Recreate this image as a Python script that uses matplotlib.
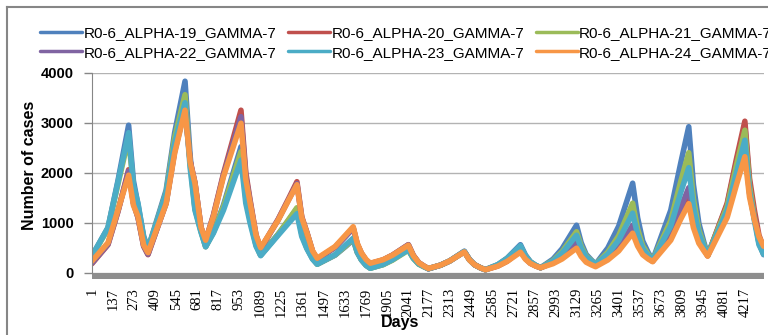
import matplotlib
matplotlib.use("Agg")
import matplotlib.pyplot as plt
from matplotlib.lines import Line2D
from matplotlib.patches import Rectangle

# key days (rise points, peak, fall points, trough for each yearly wave),
# read off the picture
days = [1, 105, 170,
        238, 269, 299, 335, 363,
        480, 535,
        602, 635, 666, 705, 735,
        785, 850,
        963, 994, 1022, 1060, 1090,
        1203, 1270,
        1324, 1355, 1388, 1425, 1455,
        1570, 1640,
        1687, 1713, 1740, 1770, 1797,
        1880, 1940,
        2043, 2075, 2110, 2145, 2172,
        2250, 2310,
        2404, 2437, 2470, 2510, 2540,
        2620, 2680,
        2766, 2798, 2830, 2866, 2896,
        2976, 3035,
        3128, 3158, 3190, 3225, 3251,
        3330, 3400,
        3490, 3522, 3555, 3590, 3619,
        3736, 3800,
        3852, 3882, 3917, 3950, 3974,
        4100, 4160,
        4214, 4244, 4275, 4305, 4335]

alpha19 = [330, 900, 1850,
           2950, 1840, 1350, 730, 480,
           1650, 2800,
           3830, 2340, 1300, 850, 520,
           820, 1350,
           2520, 1540, 1080, 565, 350,
           770, 1050,
           1280, 780, 500, 280, 170,
           350, 530,
           660, 405, 255, 145, 90,
           165, 260,
           470, 295, 175, 120, 80,
           150, 235,
           430, 265, 160, 95, 60,
           160, 290,
           560, 355, 220, 145, 100,
           270, 480,
           950, 600, 365, 250, 170,
           495, 930,
           1790, 1100, 635, 405, 250,
           1250, 2190,
           2920, 1765, 990, 605, 350,
           1360, 2220,
           2950, 1785, 1140, 600, 360]
alpha20 = [180, 560, 1230,
           2060, 1400, 1100, 530, 360,
           1400, 2450,
           3300, 2240, 1800, 905, 640,
           1150, 1980,
           3250, 2005, 1450, 755, 480,
           1070, 1480,
           1820, 1120, 810, 425, 270,
           510, 740,
           900, 575, 390, 250, 180,
           255, 350,
           560, 345, 200, 130, 80,
           150, 235,
           420, 260, 160, 95, 60,
           135, 230,
           440, 285, 190, 135, 100,
           200, 320,
           600, 395, 250, 185, 140,
           290, 480,
           900, 600, 400, 295, 230,
           730, 1215,
           1580, 1020, 640, 465, 340,
           1390, 2280,
           3030, 1890, 1260, 750, 500]
alpha21 = [320, 880, 1780,
           2700, 1700, 1300, 695, 470,
           1600, 2700,
           3560, 2190, 1280, 825, 520,
           810, 1320,
           2420, 1490, 1050, 555, 350,
           770, 1060,
           1300, 790, 500, 285, 170,
           355, 540,
           680, 415, 260, 150, 90,
           160, 250,
           450, 285, 170, 115, 80,
           150, 235,
           420, 260, 160, 95, 60,
           155, 280,
           520, 330, 215, 140, 100,
           240, 420,
           820, 530, 335, 235, 170,
           410, 740,
           1390, 875, 535, 365, 250,
           1045, 1820,
           2400, 1480, 860, 555, 350,
           1325, 2150,
           2850, 1740, 1120, 600, 380]
alpha22 = [190, 570, 1240,
           2030, 1390, 1100, 535, 370,
           1390, 2420,
           3280, 2225, 1790, 905, 640,
           1130, 1950,
           3120, 1930, 1420, 735, 470,
           1060, 1460,
           1780, 1100, 800, 420, 270,
           505, 730,
           890, 570, 385, 250, 180,
           255, 350,
           560, 345, 200, 130, 80,
           150, 235,
           420, 260, 160, 95, 60,
           140, 235,
           450, 290, 190, 135, 100,
           205, 330,
           620, 405, 255, 190, 140,
           300, 500,
           950, 625, 415, 300, 230,
           775, 1300,
           1700, 1090, 670, 475, 340,
           1180, 1895,
           2500, 1590, 1090, 680, 480]
alpha23 = [330, 900, 1820,
           2800, 1750, 1380, 700, 470,
           1590, 2590,
           3400, 2100, 1250, 810, 520,
           790, 1250,
           2250, 1390, 990, 530, 340,
           750, 990,
           1180, 725, 480, 270, 170,
           360, 560,
           690, 420, 260, 150, 90,
           165, 260,
           460, 290, 175, 120, 80,
           150, 235,
           425, 260, 160, 95, 60,
           160, 285,
           540, 340, 215, 145, 100,
           230, 390,
           750, 490, 315, 230, 170,
           370, 650,
           1190, 765, 480, 345, 250,
           935, 1600,
           2100, 1310, 790, 525, 350,
           1250, 2000,
           2650, 1625, 1050, 560, 370]
alpha24 = [230, 600, 1260,
           1950, 1350, 1120, 555, 400,
           1380, 2390,
           3250, 2210, 1790, 910, 650,
           1120, 1920,
           2990, 1870, 1390, 750, 500,
           1050, 1450,
           1760, 1100, 800, 435, 290,
           523, 760,
           920, 590, 395, 265, 190,
           260, 350,
           550, 340, 200, 130, 85,
           150, 235,
           415, 255, 160, 95, 60,
           130, 225,
           410, 270, 185, 130, 100,
           180, 275,
           490, 325, 210, 155, 120,
           255, 435,
           790, 535, 360, 275, 220,
           650, 1070,
           1380, 905, 590, 435, 330,
           1105, 1760,
           2320, 1515, 1070, 720, 530]

labels = ["R0-6_ALPHA-19_GAMMA-7", "R0-6_ALPHA-20_GAMMA-7",
          "R0-6_ALPHA-21_GAMMA-7", "R0-6_ALPHA-22_GAMMA-7",
          "R0-6_ALPHA-23_GAMMA-7", "R0-6_ALPHA-24_GAMMA-7"]
series = [alpha19, alpha20, alpha21, alpha22, alpha23, alpha24]
colors = ["#4F81BD", "#C0504D", "#9BBB59", "#8064A2", "#4BACC6", "#F79646"]

xticks = list(range(1, 4218, 136))
yticks = [0, 1000, 2000, 3000, 4000]

plt.rcParams['font.family'] = ['Liberation Sans', 'DejaVu Sans']

W, H = 768, 335
fig = plt.figure(figsize=(W / 100, H / 100), dpi=100)
ax = fig.add_axes([91.8 / W, 1 - 272.7 / H, (764 - 91.8) / W, 200 / H])

for vals, lab, col in zip(series, labels, colors):
    ax.plot(days, vals, color=col, lw=4, label=lab,
            solid_joinstyle='round', solid_capstyle='round')

ax.set_xlim(0.5, 4337.5)
ax.set_ylim(0, 4000)
ax.set_yticks(yticks)
ax.set_xticks(xticks)
ax.set_xticklabels([str(t) for t in xticks], rotation=90,
                   family=['Liberation Serif', 'DejaVu Serif'], fontsize=10.5)
ax.tick_params(axis='x', length=0, pad=11)
ax.tick_params(axis='y', length=6, width=1, color='#868686', pad=7,
               labelsize=10.5)
for t in ax.get_yticklabels():
    t.set_fontweight('bold')

ax.grid(axis='y', color='#b3b3b3', lw=1)
ax.set_axisbelow(True)
for s in ['top', 'right', 'bottom']:
    ax.spines[s].set_visible(False)
ax.spines['left'].set_color('#868686')

# thick gray category axis band
ax.add_patch(Rectangle((0, -6.5 / 200), 1, 6.5 / 200, transform=ax.transAxes,
                       clip_on=False, color='#8e8e8e', lw=0))

fig.text(400 / W, 1 - 322 / H, 'Days', ha='center', va='center',
         fontsize=11.5, fontweight='bold')
fig.text(29 / W, 1 - 165 / H, 'Number of cases', ha='center', va='center',
         rotation=90, fontsize=11.5, fontweight='bold')

# chart area frame (cut off on the right and bottom)
fig.add_artist(Line2D([7 / W, 7 / W], [0, 1 - 7 / H], color='#868686', lw=1.5))
fig.add_artist(Line2D([7 / W, 1], [1 - 7 / H, 1 - 7 / H], color='#868686', lw=1.5))

# legend reads row by row: 19 20 21 / 22 23 24
handles, labs = ax.get_legend_handles_labels()
order = [0, 3, 1, 4, 2, 5]
leg = fig.legend([handles[i] for i in order], [labs[i] for i in order],
                 ncol=3, loc='upper left',
                 bbox_to_anchor=(40 / W, 1 - 26 / H), frameon=False,
                 fontsize=11, handlelength=2.75, handletextpad=0.1,
                 columnspacing=0.75, labelspacing=0.38, borderpad=0,
                 borderaxespad=0)
for line in leg.get_lines():
    line.set_linewidth(2.5)

fig.savefig('out.png', dpi=100)
